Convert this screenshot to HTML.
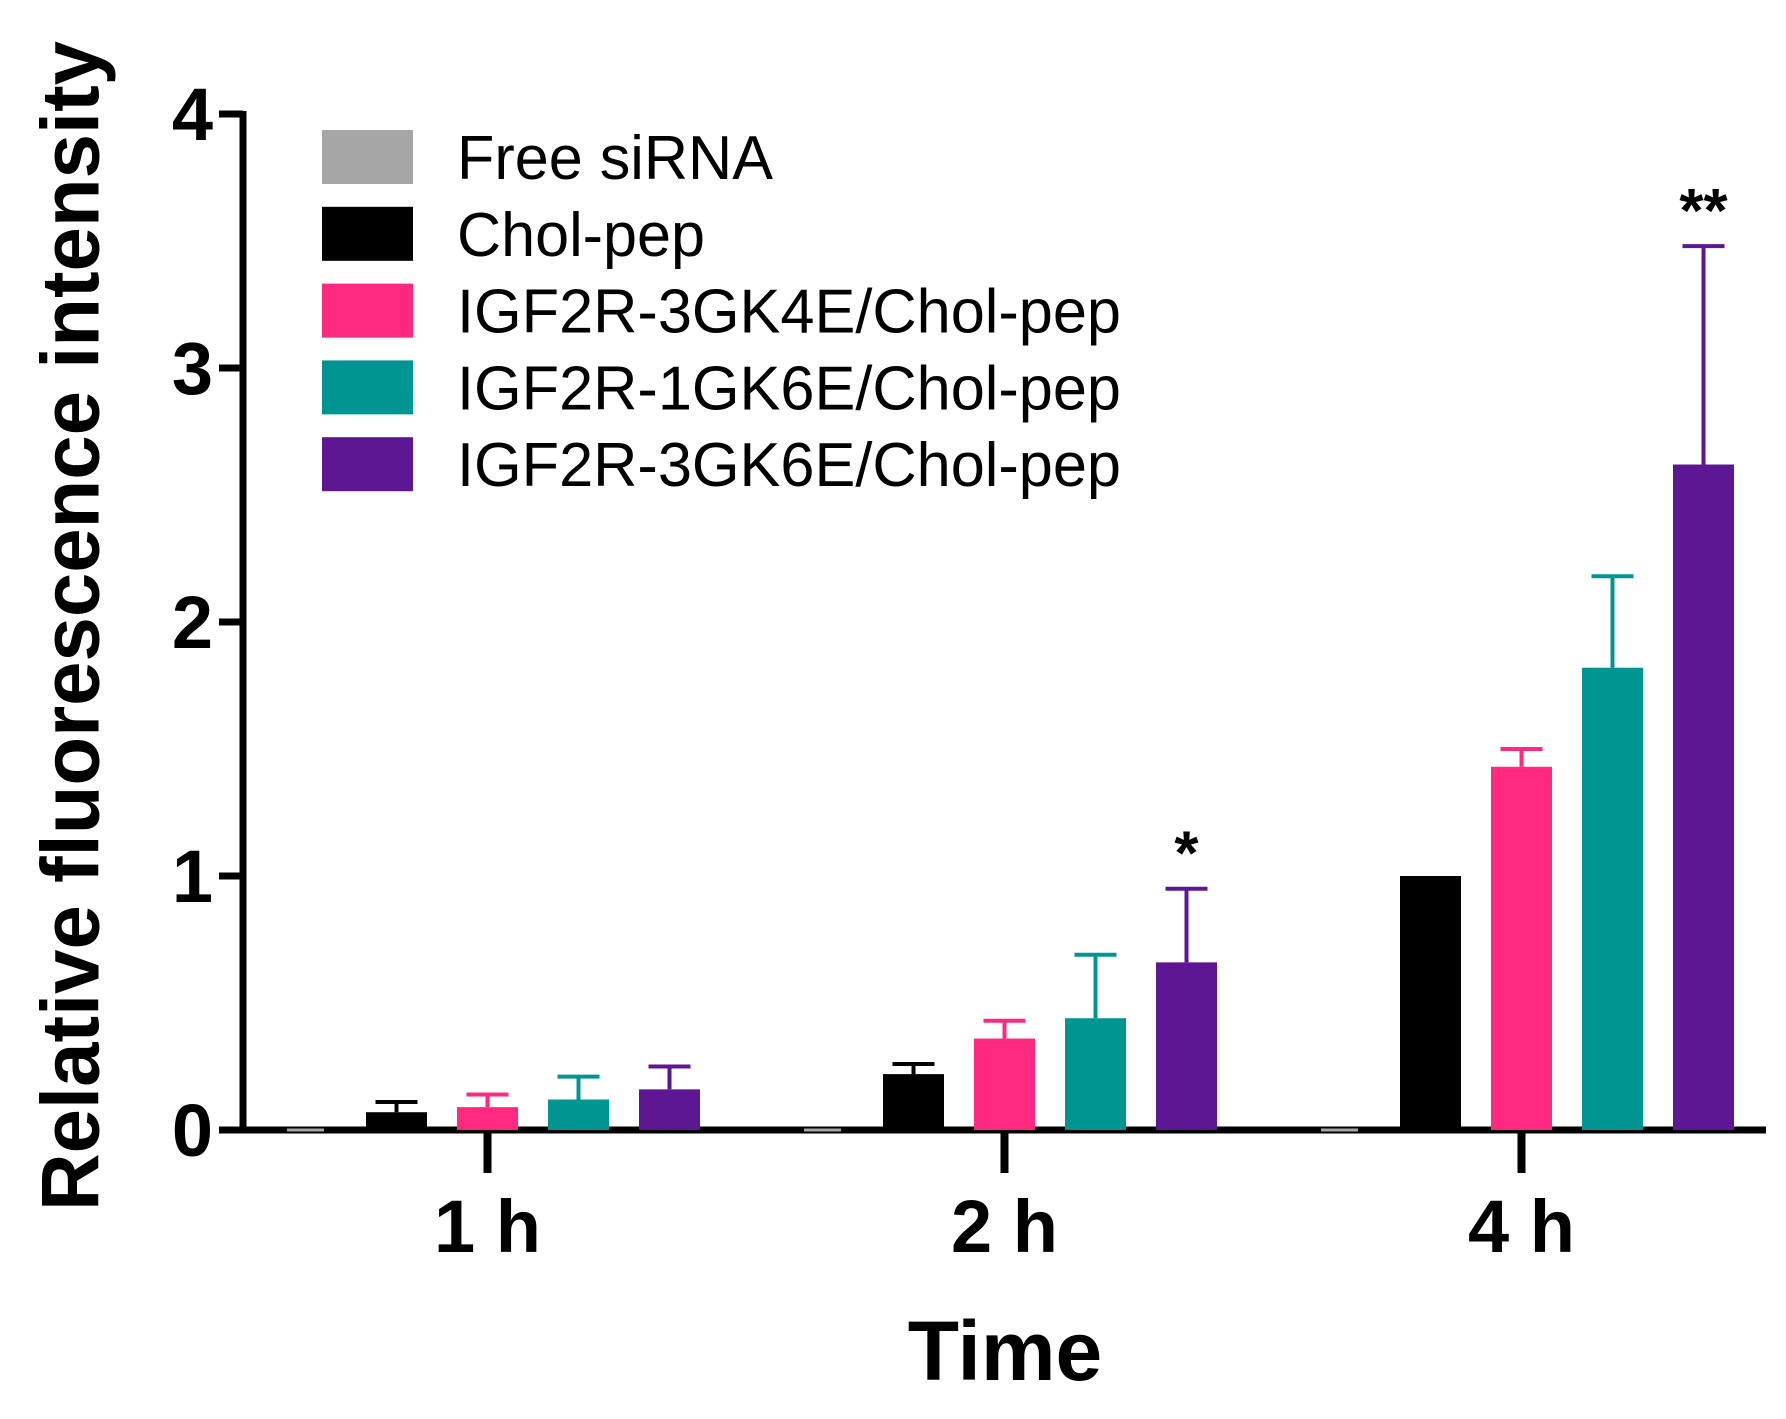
<!DOCTYPE html>
<html><head><meta charset="utf-8"><style>
html,body{margin:0;padding:0;background:#fff;}
svg{display:block;font-family:"Liberation Sans",Arial,sans-serif;}
</style></head><body>
<svg id="chart" width="1786" height="1419" viewBox="0 0 1786 1419">
<g id="plot"></g>
<text x="71" y="626" transform="rotate(-90 71 626)" text-anchor="middle" dominant-baseline="central" font-size="82" font-weight="bold" textLength="1170" lengthAdjust="spacingAndGlyphs">Relative fluorescence intensity</text>
<text x="1005" y="1380" text-anchor="middle" font-size="84" font-weight="bold">Time</text>
</svg>
<script>
const categories = ["1 h", "2 h", "4 h"];
const seriesNames = ["Free siRNA", "Chol-pep", "IGF2R-3GK4E/Chol-pep", "IGF2R-1GK6E/Chol-pep", "IGF2R-3GK6E/Chol-pep"];
const seriesColors = ["#a6a6a6", "#000000", "#ff2a7f", "#009590", "#5e1792"];
const freeVals = [0.0, 0.0, 0.0];
const cholVals = [0.07, 0.22, 1.0];
const k4eVals = [0.09, 0.36, 1.43];
const g1k6eVals = [0.12, 0.44, 1.82];
const k6eVals = [0.16, 0.66, 2.62];
const freeErr = [0.0, 0.0, 0.0];
const cholErr = [0.04, 0.04, 0.0];
const k4eErr = [0.05, 0.07, 0.07];
const g1k6eErr = [0.09, 0.25, 0.36];
const k6eErr = [0.09, 0.29, 0.86];
const yTicks = [0, 1, 2, 3, 4];
const signif = [["", "", "", "", ""], ["", "", "", "", "*"], ["", "", "", "", "**"]];

const values = [freeVals, cholVals, k4eVals, g1k6eVals, k6eVals];
const errs = [freeErr, cholErr, k4eErr, g1k6eErr, k6eErr];
const NS = "http://www.w3.org/2000/svg";
const g = document.getElementById("plot");
const X0 = 243, Y0 = 1130, YTOP = 114, XEND = 1766;
const yScale = v => Y0 - (Y0 - YTOP) * v / 4;
const groupCenter = i => 487.5 + i * 517;
const barCenter = (i, s) => groupCenter(i) + (s - 2) * 91;
const BW = 61;
function el(tag, attrs){const e=document.createElementNS(NS,tag);for(const k in attrs)e.setAttribute(k,attrs[k]);g.appendChild(e);return e;}

// axes
const ya = el("line", {x1: X0, x2: X0, y1: YTOP - 3, y2: Y0 + 3, stroke: "#000", "stroke-width": 7});


const xa = el("line", {x1: X0 - 3, x2: XEND, y1: Y0, y2: Y0, stroke: "#000", "stroke-width": 7});



// bars
for (let s = 0; s < values.length; s++) {
  for (let i = 0; i < categories.length; i++) {
    const v = values[s][i], cx = barCenter(i, s);
    const top = yScale(v);
    let h = Math.max(Y0 - top, 3);
    const b = el("rect", {x: cx - BW/2 + (v === 0 ? 12 : 0), y: Y0 - h + (v === 0 ? 1.5 : 0), width: v === 0 ? BW - 24 : BW, height: h, fill: seriesColors[s]});
    
    
    const e = errs[s][i];
    if (e > 0) {
      const et = yScale(v + e);
      const ln = el("line", {x1: cx, x2: cx, y1: top, y2: et, stroke: seriesColors[s], "stroke-width": 4});
      
      
      const cap = el("line", {x1: cx - 21, x2: cx + 21, y1: et, y2: et, stroke: seriesColors[s], "stroke-width": 4});
      
      
    }
    if (signif[i][s]) {
      const t = el("text", {x: cx, y: yScale(v + e) - 14, "text-anchor": "middle", "font-size": 62, "font-weight": "bold"});
      t.textContent = signif[i][s];
      
      
    }
  }
}
for (const t of yTicks) {
  const y = yScale(t);
  const tk = el("line", {x1: X0 - 24, x2: X0, y1: y, y2: y, stroke: "#000", "stroke-width": 7});
  
  
  const lb = el("text", {x: X0 - 30, y: y + 26, "text-anchor": "end", "font-size": 74, "font-weight": "bold"});
  lb.textContent = t;
  
  
}
for (let i = 0; i < categories.length; i++) {
  const x = groupCenter(i);
  const tk = el("line", {x1: x, x2: x, y1: Y0, y2: Y0 + 43, stroke: "#000", "stroke-width": 8});
  
  
  const lb = el("text", {x: x, y: 1252, "text-anchor": "middle", "font-size": 74, "font-weight": "bold"});
  lb.textContent = categories[i];
  
  
}
// legend
const legendWidths = [316, 248, 664, 664, 664];
for (let s = 0; s < seriesNames.length; s++) {
  const cy = 157 + s * 76.8;
  const sw = el("rect", {x: 322, y: cy - 27, width: 91, height: 54, fill: seriesColors[s]});
  
  
  const tx = el("text", {x: 457, y: cy + 22, "font-size": 62, textLength: legendWidths[s], lengthAdjust: "spacingAndGlyphs"});
  tx.textContent = seriesNames[s];
  
  
}
</script>
</body></html>
